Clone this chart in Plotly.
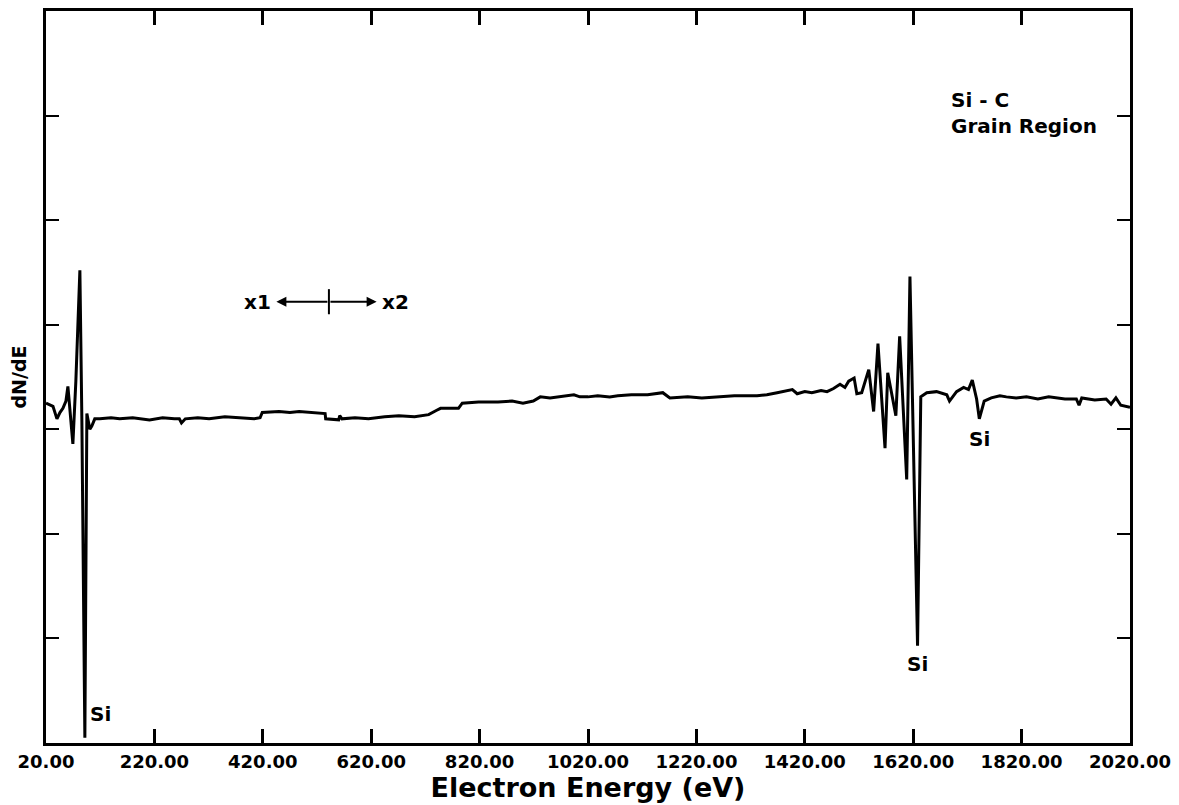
import plotly.graph_objects as go

# Electron energy (eV) and dN/dE (arbitrary units)
energy = [20, 27.4, 32.9, 40.2, 45.7, 51.2, 56.8, 60.4, 66, 69.6, 75.1, 82.5, 86.2, 91.7,
          95.4, 100.9, 104.5, 110, 119.3, 140, 156, 180, 211, 235, 257, 266, 270, 277, 300,
          321, 350, 377, 404, 415, 419, 450, 470, 487, 505, 535, 536, 560, 562, 566, 590, 615,
          645, 671, 700, 726, 740, 748, 781, 788, 818, 854, 880, 900, 919, 932, 950, 965, 994,
          1005, 1020, 1038, 1060, 1075, 1100, 1130, 1158, 1171, 1204, 1230, 1259, 1290, 1332,
          1350, 1369, 1397, 1406, 1420, 1433, 1450, 1461, 1473, 1485, 1494, 1501, 1511, 1516,
          1525, 1538, 1547, 1555, 1568, 1573, 1588, 1595, 1608, 1614, 1628, 1634, 1645, 1663,
          1682, 1687, 1700, 1713, 1722, 1729, 1737, 1742, 1751, 1764, 1780, 1792, 1810, 1829,
          1850, 1870, 1884, 1900, 1921, 1926, 1931, 1955, 1976, 1985, 1994, 2003, 2020]
dNdE = [3.25, 3.23, 3.22, 3.10, 3.16, 3.20, 3.27, 3.41, 3.08, 2.86, 3.46, 4.52, 3.08, 0.05,
        3.15, 3.00, 3.03, 3.10, 3.10, 3.11, 3.10, 3.11, 3.09, 3.11, 3.10, 3.10, 3.06, 3.10, 3.11,
        3.10, 3.12, 3.11, 3.10, 3.11, 3.16, 3.17, 3.16, 3.17, 3.16, 3.15, 3.10, 3.09, 3.13, 3.10,
        3.11, 3.10, 3.12, 3.13, 3.12, 3.14, 3.18, 3.20, 3.20, 3.25, 3.26, 3.26, 3.27, 3.25, 3.27,
        3.31, 3.30, 3.31, 3.33, 3.31, 3.31, 3.32, 3.31, 3.32, 3.33, 3.33, 3.35, 3.30, 3.31, 3.30,
        3.31, 3.32, 3.32, 3.33, 3.35, 3.38, 3.34, 3.36, 3.35, 3.37, 3.36, 3.39, 3.43, 3.40, 3.46,
        3.49, 3.34, 3.35, 3.57, 3.17, 3.82, 2.82, 3.54, 3.13, 3.89, 2.52, 4.46, 0.93, 3.31, 3.35,
        3.36, 3.33, 3.27, 3.36, 3.40, 3.38, 3.47, 3.29, 3.10, 3.27, 3.30, 3.32, 3.31, 3.30, 3.31,
        3.29, 3.31, 3.30, 3.29, 3.29, 3.23, 3.30, 3.28, 3.29, 3.24, 3.30, 3.23, 3.21]

x_ticks = [20, 220, 420, 620, 820, 1020, 1220, 1420, 1620, 1820, 2020]
x_tick_labels = ["20.00", "220.00", "420.00", "620.00", "820.00", "1020.00", "1220.00",
                 "1420.00", "1620.00", "1820.00", "2020.00"]
y_ticks = [0, 1, 2, 3, 4, 5, 6, 7]

FONT = "DejaVu Sans"

fig = go.Figure()
fig.add_trace(go.Scatter(x=energy, y=dNdE, mode="lines",
                         line=dict(color="black", width=3), hoverinfo="skip"))

axis_common = dict(showline=True, linecolor="black", linewidth=3, mirror="ticks",
                   ticks="inside", tickcolor="black", showgrid=False, zeroline=False)

fig.update_xaxes(range=[20, 2020], tickvals=x_ticks, ticktext=x_tick_labels,
                 ticklen=14, tickwidth=3,
                 tickfont=dict(family=FONT, size=18, color="black", weight="bold"),
                 title=dict(text="Electron Energy (eV)",
                            font=dict(family=FONT, size=27, color="black", weight="bold"),
                            standoff=4),
                 **axis_common)
fig.update_yaxes(range=[0, 7], tickvals=y_ticks, showticklabels=False,
                 ticklen=13, tickwidth=2,
                 title=dict(text="dN/dE",
                            font=dict(family=FONT, size=19, color="black", weight="bold"),
                            standoff=12),
                 **axis_common)

lab = dict(family=FONT, size=20, color="black", weight="bold")
annots = [
    dict(x=98, y=0.28, text="Si", xanchor="left", yanchor="middle"),
    dict(x=1628, y=0.76, text="Si", xanchor="center", yanchor="middle"),
    dict(x=1742, y=2.91, text="Si", xanchor="center", yanchor="middle"),
    dict(x=1686, y=6.15, text="Si - C", xanchor="left", yanchor="middle"),
    dict(x=1686, y=5.90, text="Grain Region", xanchor="left", yanchor="middle"),
    dict(x=438, y=4.22, text="x1", xanchor="right", yanchor="middle"),
    dict(x=636, y=4.22, text="x2", xanchor="left", yanchor="middle"),
]
for a in annots:
    fig.add_annotation(xref="x", yref="y", showarrow=False, font=lab, **a)

# double arrow with centre tick
for head in (445, 630):
    fig.add_annotation(xref="x", yref="y", axref="x", ayref="y", x=head, y=4.22,
                       ax=542, ay=4.22, text="", showarrow=True, arrowhead=2,
                       arrowsize=1, arrowwidth=2, arrowcolor="black")
fig.add_shape(type="line", xref="x", yref="y", x0=542, x1=542, y0=4.10, y1=4.34,
              line=dict(color="black", width=2))

fig.update_layout(width=1179, height=805, margin=dict(l=46, r=45, t=8, b=62),
                  plot_bgcolor="white", paper_bgcolor="white", showlegend=False)

fig.write_html("out.html")
